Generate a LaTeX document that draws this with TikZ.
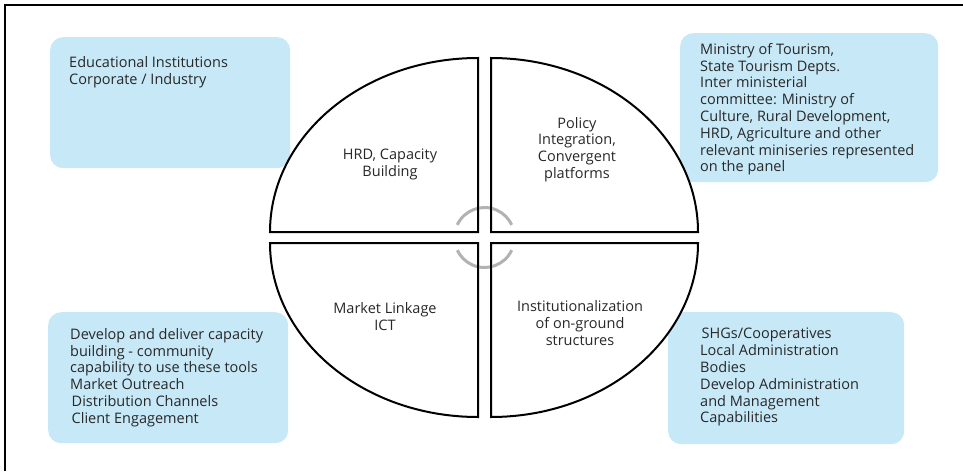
\documentclass[tikz,border=0pt]{standalone}
\usepackage{fontspec}
\setmainfont{Open Sans}
\definecolor{boxblue}{RGB}{198,232,247}
\definecolor{txtgray}{RGB}{40,40,40}
\definecolor{arcgray}{RGB}{178,178,178}
\begin{document}
\begin{tikzpicture}[x=1pt,y=-1pt,
  infobox/.style={fill=boxblue,rounded corners=13pt,draw=none,inner sep=0pt,anchor=north west},
  infotext/.style={anchor=north west,align=left,inner sep=0pt,text=txtgray,
    font=\fontsize{14.5}{16.8}\selectfont},
  quadlabel/.style={align=center,inner sep=0pt,text=txtgray,
    font=\fontsize{14.5}{16.8}\selectfont},
  quad/.style={draw=black,line width=2pt,line join=miter,fill=white},
  joinarc/.style={draw=arcgray,line width=3pt}]
\useasboundingbox (0,0) rectangle (963,471);
\fill[white] (0,0) rectangle (963,471);
% frame
\draw[line width=2pt] (5,471) -- (5,4.5) -- (963,4.5);
% blue boxes
\node[infobox,minimum width=240pt,minimum height=131pt] (tlbox) at (50,37) {};
\node[infobox,minimum width=258pt,minimum height=149pt] (trbox) at (680,33) {};
\node[infobox,minimum width=240pt,minimum height=131pt] (blbox) at (48,312) {};
\node[infobox,minimum width=236pt,minimum height=132pt] (brbox) at (668,312) {};
% box texts
\node[infotext] (tltext) at (69,56) {Educational Institutions\\Corporate / Industry};
\node[infotext] (trtext) at (700,43) {Ministry of Tourism,\\State Tourism Depts.\\Inter ministerial\\committee: Ministry of\\Culture, Rural Development,\\HRD, Agriculture and other\\relevant miniseries represented\\on the panel};
\node[infotext] (bltext) at (70,328) {Develop and deliver capacity\\building - community\\capability to use these tools\\Market Outreach\\\hspace{1.5pt}Distribution Channels\\\hspace{1.5pt}Client Engagement};
\node[infotext] (brtext) at (700,328) {\hspace{1.5pt}SHGs/Cooperatives\\Local Administration\\Bodies\\Develop Administration\\and Management\\Capabilities};
% quadrants
\path[quad] (478,232) -- (270,232) arc[start angle=180,end angle=270,x radius=208,y radius=174] -- cycle;
\path[quad] (491,232) -- (491,58) arc[start angle=270,end angle=360,x radius=207,y radius=174] -- cycle;
\path[quad] (478,243) -- (270,243) arc[start angle=180,end angle=90,x radius=208,y radius=174] -- cycle;
\path[quad] (491,243) -- (698,243) arc[start angle=0,end angle=90,x radius=207,y radius=174] -- cycle;
% central gray arcs
\coordinate (hub) at (484.5,237.5);
\draw[joinarc] (hub) ++(205:30) arc[start angle=205,end angle=335,radius=30];
\draw[joinarc] (hub) ++(25:30) arc[start angle=25,end angle=155,radius=30];
% redraw black inner edges over the gray arcs
\draw[line width=2pt] (478,200) -- (478,232);
\draw[line width=2pt] (491,200) -- (491,232);
\draw[line width=2pt] (478,243) -- (478,275);
\draw[line width=2pt] (491,243) -- (491,275);
\draw[line width=2pt] (440,232) -- (479,232);
\draw[line width=2pt] (490,232) -- (530,232);
\draw[line width=2pt] (440,243) -- (479,243);
\draw[line width=2pt] (490,243) -- (530,243);
% quadrant labels
\node[quadlabel] (hrd) at (390,164.5) {HRD, Capacity\\Building};
\node[quadlabel] (policy) at (577,149.5) {Policy\\Integration,\\Convergent\\platforms};
\node[quadlabel] (market) at (385,316.5) {Market Linkage\\ICT};
\node[quadlabel] (inst) at (580,323) {Institutionalization\\of on-ground\\structures};
\end{tikzpicture}
\end{document}
